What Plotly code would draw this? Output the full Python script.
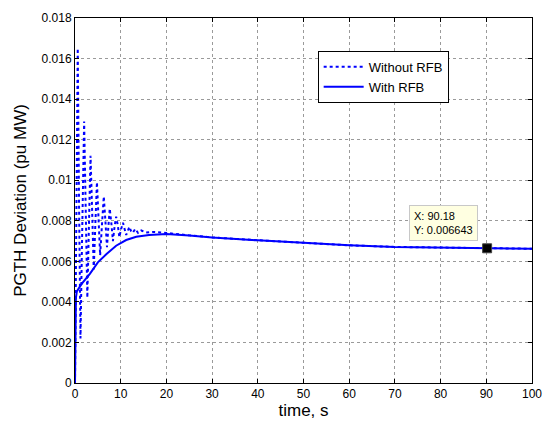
import plotly.graph_objects as go

# Without RFB (dotted)
t_without = [0, 0.3, 0.6, 0.9, 1.2, 1.6, 2.0, 2.35, 2.7, 3.05, 3.4, 3.75, 4.1, 4.45, 4.8, 5.15,
             5.5, 5.9, 6.3, 6.65, 7.0, 7.3, 7.6, 7.95, 8.3, 8.65, 9.0, 9.35, 9.7, 10.1, 10.5,
             10.85, 11.2, 11.55, 11.9, 12.25, 12.6, 13.2, 13.8, 14.5, 15.5, 17, 20, 25, 30,
             40, 50, 60, 70, 80, 90, 100]
y_without = [0.0, 0.0095, 0.0165, 0.0085, 0.0022, 0.0078, 0.0129, 0.0085, 0.0042, 0.0078, 0.0112,
             0.0085, 0.0056, 0.0078, 0.0099, 0.0081, 0.0063, 0.0078, 0.0092, 0.0080, 0.0067,
             0.0077, 0.0086, 0.0079, 0.0070, 0.0077, 0.0082, 0.0078, 0.0072, 0.0076, 0.0079,
             0.0076, 0.0073, 0.0075, 0.0077, 0.0075, 0.0074, 0.0076, 0.0074, 0.00752, 0.00742,
             0.00745, 0.0074, 0.00728, 0.00718, 0.00704, 0.0069, 0.00679, 0.00671, 0.00667,
             0.00665, 0.00662]

# With RFB (solid)
t_with = [0, 0.05, 0.2, 0.4, 1.45, 3.25, 5.0, 6.9, 9.0, 11.2, 13.4, 16.2, 18.4, 20, 25, 30,
          40, 50, 60, 70, 80, 90.18, 100]
y_with = [0.0, 0.0036, 0.0042, 0.00452, 0.00489, 0.00538, 0.00595, 0.00636, 0.00677, 0.00705,
          0.00721, 0.0073, 0.00734, 0.00735, 0.00728, 0.00718, 0.00704, 0.0069, 0.00679,
          0.00671, 0.00667, 0.006643, 0.00662]

tip_x = [90.18]
tip_y = [0.006643]

x_ticks = list(range(0, 101, 10))
y_ticks = [0, 0.002, 0.004, 0.006, 0.008, 0.01, 0.012, 0.014, 0.016, 0.018]
y_tick_text = ["0", "0.002", "0.004", "0.006", "0.008", "0.01", "0.012", "0.014", "0.016", "0.018"]

FONT = "Liberation Sans, Arial, sans-serif"

fig = go.Figure()
fig.add_trace(go.Scatter(x=t_without, y=y_without, mode="lines", name="Without RFB",
                         line=dict(color="#0000ff", width=2, dash="dot")))
fig.add_trace(go.Scatter(x=t_with, y=y_with, mode="lines", name="With RFB",
                         line=dict(color="#0000ff", width=2)))
fig.add_trace(go.Scatter(x=tip_x, y=tip_y, mode="markers", showlegend=False,
                         marker=dict(symbol="square", size=9, color="black",
                                     line=dict(color="#444", width=1))))

fig.add_annotation(x=tip_x[0], y=tip_y[0], xref="x", yref="y",
                   text="X: 90.18<br>Y: 0.006643", showarrow=False,
                   xanchor="right", yanchor="bottom", xshift=-9, yshift=7,
                   align="left", bgcolor="#ffffe1", bordercolor="#c8c8c8",
                   borderwidth=1, borderpad=4,
                   font=dict(family=FONT, size=11, color="black"))

axis_common = dict(showline=True, linecolor="black", linewidth=1, mirror="ticks",
                   ticks="inside", ticklen=4, tickcolor="black",
                   showgrid=True, gridcolor="#9a9a9a", griddash="dot", gridwidth=1,
                   zeroline=False,
                   tickfont=dict(family=FONT, size=12, color="black"))

fig.update_xaxes(range=[0, 100], tickvals=x_ticks,
                 title=dict(text="time, s", font=dict(family=FONT, size=17, color="black"),
                            standoff=3),
                 **axis_common)
fig.update_yaxes(range=[0, 0.018], tickvals=y_ticks, ticktext=y_tick_text,
                 title=dict(text="PGTH Deviation (pu MW)",
                            font=dict(family=FONT, size=17, color="black"), standoff=10),
                 **axis_common)

fig.update_layout(
    width=553, height=428,
    margin=dict(l=75, r=11, t=15, b=45),
    paper_bgcolor="white", plot_bgcolor="white",
    legend=dict(x=0.531, y=0.910, xanchor="left", yanchor="top",
                bgcolor="white", bordercolor="black", borderwidth=1,
                font=dict(family=FONT, size=13, color="black"),
                tracegroupgap=0, itemwidth=40),
    showlegend=True,
)

fig.write_html("out.html", config={"displayModeBar": False},
               post_script="document.body.style.margin='0';document.body.style.overflow='hidden';")
